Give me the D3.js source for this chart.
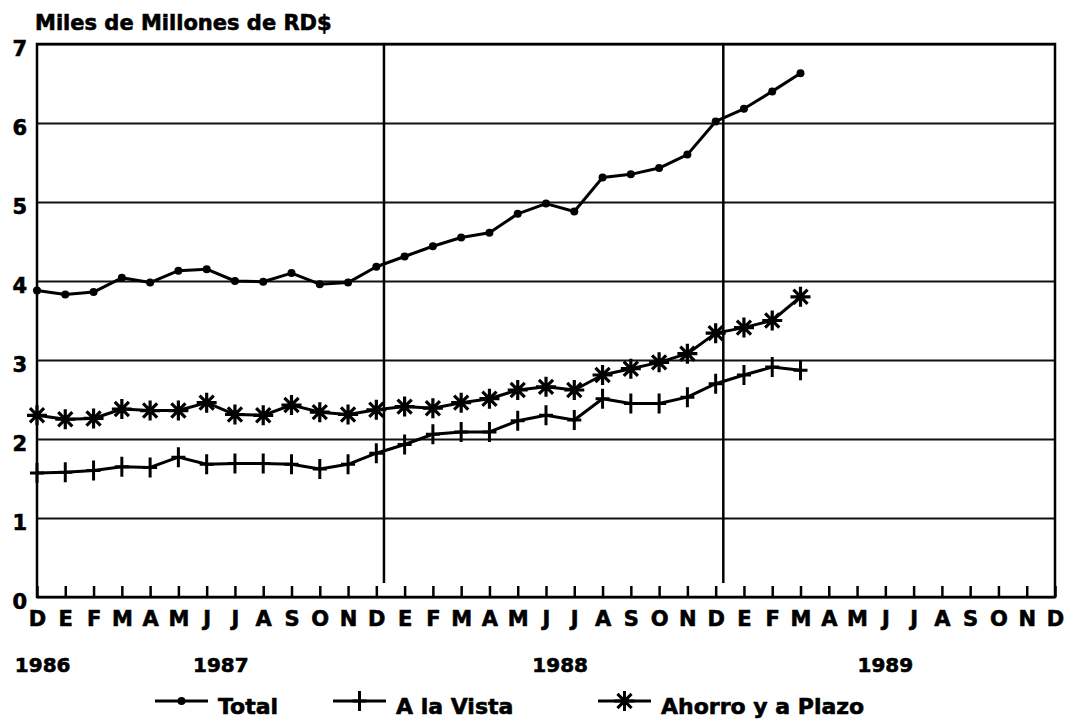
<!DOCTYPE html>
<html>
<head>
<meta charset="utf-8">
<script src="https://cdn.jsdelivr.net/npm/d3@7"></script>
<style>
  body { margin: 0; background: #fff; }
  text { font-family: "DejaVu Sans", sans-serif; font-weight: bold; fill: #000; stroke: #000; stroke-width: 0.6px; }
</style>
</head>
<body>
<div id="chart"></div>
<script>
// months from Dec 1986 to Dec 1989
const months = ["D","E","F","M","A","M","J","J","A","S","O","N",
                "D","E","F","M","A","M","J","J","A","S","O","N",
                "D","E","F","M","A","M","J","J","A","S","O","N","D"];
const years = ["1986", "1987", "1988", "1989"];
const yearAt = [0.2, 6.5, 18.5, 30];
const yTicks = [0, 1, 2, 3, 4, 5, 6, 7];
const dividers = [12, 24];

const total = [3.88, 3.83, 3.86, 4.04, 3.98, 4.13, 4.15, 4.00, 3.99, 4.10, 3.96, 3.98,
               4.18, 4.31, 4.44, 4.55, 4.61, 4.85, 4.98, 4.88, 5.31, 5.35, 5.43, 5.60,
               6.02, 6.18, 6.40, 6.63];
const aLaVista = [1.57, 1.58, 1.60, 1.65, 1.64, 1.77, 1.68, 1.69, 1.69, 1.68, 1.62, 1.68,
                  1.82, 1.93, 2.06, 2.09, 2.09, 2.23, 2.30, 2.24, 2.51, 2.45, 2.45, 2.53,
                  2.70, 2.81, 2.91, 2.87];
const ahorro = [2.30, 2.25, 2.26, 2.38, 2.36, 2.36, 2.46, 2.31, 2.30, 2.43, 2.34, 2.31,
                2.37, 2.41, 2.39, 2.46, 2.51, 2.62, 2.66, 2.62, 2.81, 2.89, 2.97, 3.08,
                3.34, 3.41, 3.50, 3.80];
const legendLabels = ["Total", "A la Vista", "Ahorro y a Plazo"];

const width = 1071, height = 724;
const plotL = 37, plotR = 1055, plotT = 44, plotB = 597;

const svg = d3.select("#chart").append("svg")
  .attr("width", width)
  .attr("height", height);

const x = d3.scaleLinear().domain([0, 36]).range([plotL, plotR]);
const y = d3.scaleLinear().domain([0, 7]).range([plotB, plotT]);
const step = x(1) - x(0);

// title
svg.append("text")
  .attr("x", 35)
  .attr("y", 30)
  .style("font-size", "21px")
  .text("Miles de Millones de RD$");

// horizontal grid + y labels
const yAxis = d3.axisLeft(y)
  .tickValues(yTicks)
  .tickSize(-(plotR - plotL))
  .tickPadding(10)
  .tickFormat(d3.format("d"));

const gy = svg.append("g")
  .attr("transform", "translate(" + plotL + ",0)")
  .call(yAxis);
gy.select(".domain").remove();
gy.selectAll("line").attr("stroke", "#111").attr("stroke-width", 2);
gy.selectAll("text")
  .attr("dy", "0.55em")
  .attr("font-family", null)
  .attr("font-size", null)
  .style("font-size", "21px");

// month ticks pointing up
const xAxis = d3.axisBottom(x)
  .tickValues(d3.range(0, 37))
  .tickSize(-11)
  .tickPadding(14)
  .tickFormat(i => months[i]);

const gx = svg.append("g")
  .attr("transform", "translate(0," + plotB + ")")
  .call(xAxis);
gx.select(".domain").remove();
gx.selectAll("line").attr("stroke", "#000").attr("stroke-width", 2.5);
gx.selectAll("text")
  .attr("font-family", null)
  .attr("font-size", null)
  .style("font-size", "21px");

// year labels
svg.selectAll(".year")
  .data(years)
  .enter()
  .append("text")
  .attr("class", "year")
  .attr("x", (d, i) => x(yearAt[i]))
  .attr("y", 672)
  .attr("text-anchor", "middle")
  .style("font-size", "20px")
  .text(d => d);

// year dividers
svg.selectAll(".divider")
  .data(dividers)
  .enter()
  .append("line")
  .attr("x1", d => x(d) + step * 0.27)
  .attr("x2", d => x(d) + step * 0.27)
  .attr("y1", plotT)
  .attr("y2", plotB - 14)
  .attr("stroke", "#000")
  .attr("stroke-width", 2.5);

// frame
svg.append("rect")
  .attr("x", plotL)
  .attr("y", plotT)
  .attr("width", plotR - plotL)
  .attr("height", plotB - plotT)
  .attr("fill", "none")
  .attr("stroke", "#000")
  .attr("stroke-width", 2.5);

const line = d3.line()
  .x((d, i) => x(i))
  .y(d => y(d));

function plusPath(cx, cy) {
  return "M" + cx + "," + (cy - 10) + "V" + (cy + 10) +
         "M" + (cx - 7) + "," + cy + "H" + (cx + 7);
}

function starPath(cx, cy) {
  let p = "";
  for (let k = 0; k < 4; k++) {
    let a = k * Math.PI / 4;
    let dx = 10 * Math.cos(a), dy = 10 * Math.sin(a);
    p += "M" + (cx + dx) + "," + (cy + dy) + "L" + (cx - dx) + "," + (cy - dy);
  }
  return p;
}

const series = [
  { values: total, marker: "dot" },
  { values: aLaVista, marker: "plus" },
  { values: ahorro, marker: "star" }
];

series.forEach(s => {
  svg.append("path")
    .datum(s.values)
    .attr("d", line)
    .attr("fill", "none")
    .attr("stroke", "#000")
    .attr("stroke-width", 3)
    .attr("stroke-linejoin", "round");

  if (s.marker == "dot") {
    svg.selectAll(null)
      .data(s.values)
      .enter()
      .append("circle")
      .attr("cx", (d, i) => x(i))
      .attr("cy", d => y(d))
      .attr("r", 4)
      .attr("fill", "#000");
  } else {
    svg.selectAll(null)
      .data(s.values)
      .enter()
      .append("path")
      .attr("d", (d, i) => s.marker == "plus" ? plusPath(x(i), y(d)) : starPath(x(i), y(d)))
      .attr("stroke", "#000")
      .attr("stroke-width", s.marker == "plus" ? 3 : 3.2)
      .attr("fill", "none");
  }
});

// legend
const legendX = [155, 333, 598];
const legendY = 701;
legendLabels.forEach((label, i) => {
  let lx = legendX[i];
  svg.append("line")
    .attr("x1", lx).attr("x2", lx + 53)
    .attr("y1", legendY).attr("y2", legendY)
    .attr("stroke", "#000").attr("stroke-width", 3);
  let cx = lx + 26.5;
  if (i == 0) {
    svg.append("circle").attr("cx", cx).attr("cy", legendY).attr("r", 4).attr("fill", "#000");
  } else {
    svg.append("path")
      .attr("d", i == 1 ? plusPath(cx, legendY) : starPath(cx, legendY))
      .attr("stroke", "#000").attr("stroke-width", 3).attr("fill", "none");
  }
  svg.append("text")
    .attr("x", lx + 63)
    .attr("y", 714)
    .style("font-size", "22px")
    .text(label);
});
</script>
</body>
</html>
